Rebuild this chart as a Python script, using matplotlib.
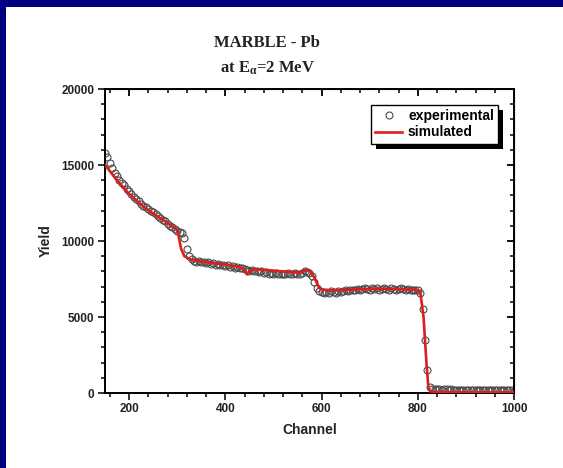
import numpy as np
import matplotlib
matplotlib.use("Agg")
import matplotlib.pyplot as plt
from matplotlib.patches import Rectangle
from matplotlib.transforms import IdentityTransform

plt.rcParams["font.family"] = ["Liberation Sans", "DejaVu Sans"]
plt.rcParams["mathtext.fontset"] = "custom"
plt.rcParams["mathtext.rm"] = "Liberation Serif:bold"
plt.rcParams["mathtext.it"] = "Liberation Serif:bold"

# experimental spectrum, every 5 channels from 150 to 1000
exp_channel = np.arange(150, 1001, 5)
exp_yield = [
    15800, 15500, 15100, 14800, 14500, 14300, 14000, 13800, 13700, 13450,
    13300, 13100, 12900, 12750, 12600, 12450, 12300, 12250, 12100, 12000,
    11900, 11800, 11650, 11500, 11400, 11300, 11150, 11000, 10900, 10800,
    10650, 10600, 10500, 10200, 9500, 9000, 8800, 8700, 8650, 8700,
    8600, 8650, 8550, 8600, 8500, 8550, 8450, 8500, 8400, 8450,
    8350, 8400, 8300, 8350, 8250, 8300, 8200, 8250, 8150, 8100,
    8050, 8100, 8000, 8050, 7950, 8000, 7900, 7950, 7850, 7900,
    7850, 7900, 7850, 7800, 7850, 7800, 7900, 7850, 7800, 7900,
    7850, 7800, 7900, 8000, 7950, 7900, 7700, 7300, 6900, 6700,
    6650, 6600, 6650, 6600, 6700, 6650, 6600, 6700, 6650, 6700,
    6750, 6700, 6800, 6750, 6800, 6850, 6800, 6850, 6900, 6850,
    6800, 6900, 6850, 6900, 6800, 6850, 6900, 6850, 6800, 6900,
    6850, 6800, 6850, 6900, 6850, 6800, 6850, 6800, 6750, 6800,
    6750, 6600, 5500, 3500, 1500, 400, 250, 260, 240, 250,
    230, 250, 240, 220, 240, 230, 220, 230, 210, 220,
    200, 210, 220, 200, 210, 190, 200, 210, 190, 200,
    180, 190, 200, 180, 190, 180, 170, 180, 170, 180,
    160,
]

# simulated spectrum
sim_channel = [150, 175, 200, 225, 250, 275, 290, 298, 302, 308, 315, 330, 360,
               400, 430, 440, 445, 450, 460, 500, 540, 555, 565, 575, 585, 595,
               610, 640, 660, 700, 750, 790, 805, 812, 818, 822, 826, 850, 1000]
sim_yield = [15000, 14000, 13100, 12400, 11800, 11300, 10950, 10800, 10500, 9500,
             9000, 8750, 8600, 8450, 8300, 8100, 7800, 8000, 8150, 8050, 7950,
             7900, 8100, 8050, 7600, 6900, 6750, 6750, 6800, 6850, 6850, 6800,
             6700, 5000, 2000, 400, 100, 60, 40]

fig = plt.figure(figsize=(5.63, 4.68), dpi=100, facecolor="#000080")
fig.patches.append(Rectangle((6 / 563, 0), 1, 1 - 7 / 468, transform=fig.transFigure,
                             facecolor="white", edgecolor="none", zorder=-10))

ax = fig.add_axes([105 / 563, 1 - 393 / 468, 409 / 563, 304 / 468])
ax.plot(exp_channel, exp_yield, "o", mfc="none", mec="#4a4a4a", ms=5.0, mew=0.8,
        label="experimental", zorder=2)
ax.plot(sim_channel, sim_yield, "-", color="#dc1e1e", lw=1.9, label="simulated", zorder=3)

ax.set_xlim(150, 1000)
ax.set_ylim(0, 20000)
ax.set_xticks([200, 400, 600, 800, 1000])
ax.set_xticks(np.arange(160, 1001, 40), minor=True)
ax.set_yticks([0, 5000, 10000, 15000, 20000])
ax.set_yticks(np.arange(0, 20001, 1000), minor=True)
for s in ax.spines.values():
    s.set_linewidth(1.4)
ax.tick_params(which="major", direction="out", length=5, width=1.3,
               labelsize=8.5, pad=2.5, colors="#222222")
ax.tick_params(which="minor", direction="out", length=3, width=1.1)
for lab in ax.get_xticklabels() + ax.get_yticklabels():
    lab.set_fontweight("bold")

# mirror ticks on top / right pointing inward
top = ax.secondary_xaxis("top")
top.set_xticks([200, 400, 600, 800, 1000])
top.set_xticks(np.arange(160, 1001, 40), minor=True)
top.tick_params(which="major", direction="in", length=5, width=1.3, labeltop=False)
top.tick_params(which="minor", direction="in", length=3, width=1.1)
right = ax.secondary_yaxis("right")
right.set_yticks([0, 5000, 10000, 15000, 20000])
right.set_yticks(np.arange(0, 20001, 1000), minor=True)
right.tick_params(which="major", direction="in", length=5, width=1.3, labelright=False)
right.tick_params(which="minor", direction="in", length=3, width=1.1)

ax.set_xlabel("Channel", fontsize=10, fontweight="bold", color="#222222")
ax.set_ylabel("Yield", fontsize=10, fontweight="bold", color="#222222")
ax.xaxis.set_label_coords(0.5, -0.10)
ax.yaxis.set_label_coords(-0.127, 0.5)

leg = ax.legend(loc="upper right", bbox_to_anchor=(0.961, 0.947), borderaxespad=0,
                fancybox=False, edgecolor="black", framealpha=1,
                prop={"weight": "bold", "size": 10},
                handlelength=2.0, handletextpad=0.4, borderpad=0.3, labelspacing=0.15)
leg.get_frame().set_linewidth(1.0)
leg.set_zorder(6)

# solid black drop shadow behind the legend
fig.canvas.draw()
bb = leg.get_window_extent()
shadow = Rectangle((bb.x0 + 5, bb.y0 - 5), bb.width, bb.height, transform=IdentityTransform(),
                   facecolor="black", edgecolor="none", zorder=5, clip_on=False)
ax.add_artist(shadow)

fig.text(267 / 563, 1 - 43 / 468, "MARBLE - Pb", ha="center", va="center",
         fontsize=12, fontweight="bold", family="Liberation Serif", color="#222222")
fig.text(267 / 563, 1 - 68 / 468, r"at E$_{\alpha}$=2 MeV", ha="center", va="center",
         fontsize=12, fontweight="bold", family="Liberation Serif", color="#222222")

fig.savefig("out.png", dpi=100, facecolor=fig.get_facecolor())
